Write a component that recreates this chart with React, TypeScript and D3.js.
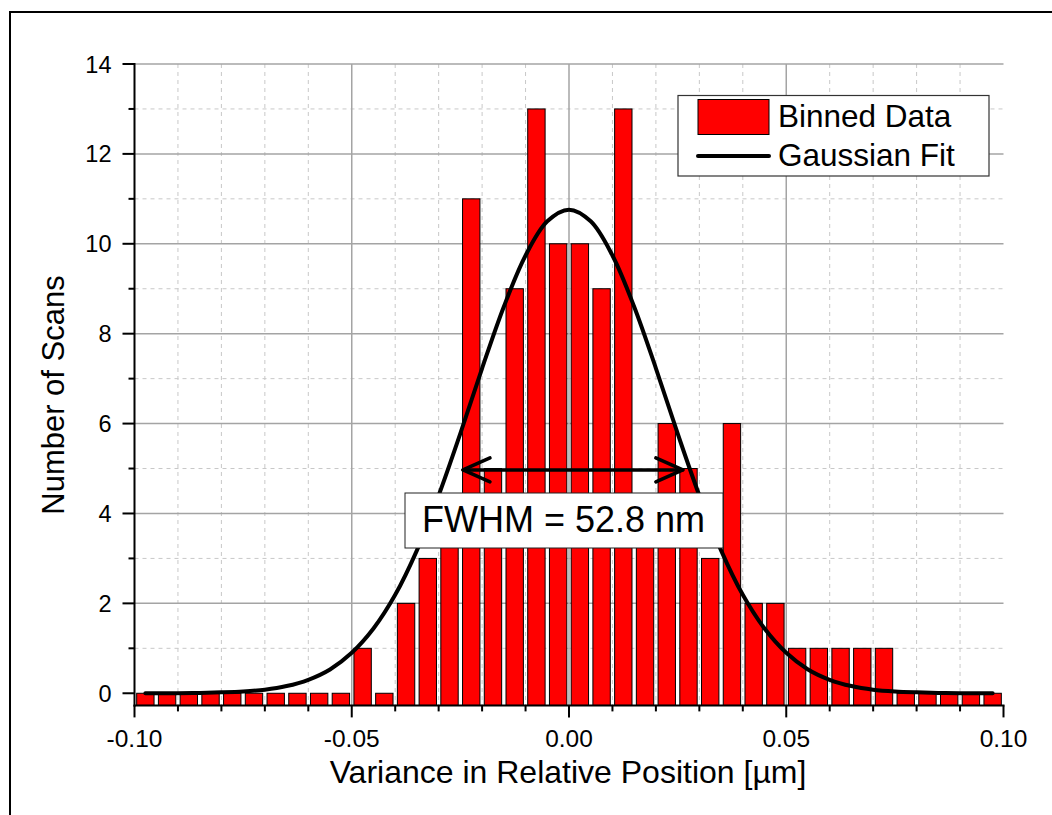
import React from "react";
import * as d3 from "d3";

// ---- data ----
const binStart = -0.1;
const binWidth = 0.005;
const binCounts = [
  0, 0, 0, 0, 0, 0, 0, 0, 0, 0,
  1, 0, 2, 3, 4, 11, 5, 9, 13, 10,
  10, 9, 13, 4, 6, 5, 3, 6, 2, 2,
  1, 1, 1, 1, 1, 0, 0, 0, 0, 0,
];
const fitX = [
  -0.0975, -0.09, -0.085, -0.08, -0.075, -0.07, -0.065, -0.06, -0.055, -0.05,
  -0.045, -0.04, -0.035, -0.03, -0.025, -0.02, -0.015, -0.01, -0.005, 0,
  0.005, 0.01, 0.015, 0.02, 0.025, 0.03, 0.035, 0.04, 0.045, 0.05,
  0.055, 0.06, 0.065, 0.07, 0.075, 0.08, 0.085, 0.09, 0.0975,
];
const fitY = [
  0.0, 0.003, 0.008, 0.02, 0.04, 0.08, 0.16, 0.3, 0.53, 0.9,
  1.44, 2.19, 3.18, 4.4, 5.78, 7.23, 8.6, 9.74, 10.5, 10.76,
  10.5, 9.74, 8.6, 7.23, 5.78, 4.4, 3.18, 2.19, 1.44, 0.9,
  0.53, 0.3, 0.16, 0.08, 0.04, 0.02, 0.008, 0.003, 0.0,
];
const xMajorTicks = [-0.1, -0.05, 0, 0.05, 0.1];
const xTickLabels = ["-0.10", "-0.05", "0.00", "0.05", "0.10"];
const xMinorTicks = d3.range(-10, 11).map((k) => k / 100);
const yMajorTicks = [0, 2, 4, 6, 8, 10, 12, 14];
const yMinorTicks = [1, 3, 5, 7, 9, 11, 13];
const arrowX = [-0.0244, 0.0262];
const arrowY = 4.97;
const fwhmLabel = "FWHM = 52.8 nm";
const legendLabels = ["Binned Data", "Gaussian Fit"];
const xTitle = "Variance in Relative Position [\u00b5m]";
const yTitle = "Number of Scans";

const W = 1052;
const H = 815;
const FONT = "'Liberation Sans', Arial, Helvetica, sans-serif";

export default function App() {
  const x = d3.scaleLinear().domain([-0.1, 0.1]).range([134.5, 1003.5]);
  const y = d3.scaleLinear().domain([-0.27, 14]).range([705.4, 64]);
  const [x0, x1] = x.range();
  const [yb, yt] = y.range();

  const line = d3
    .line<number>()
    .x((_, i) => x(fitX[i]))
    .y((d) => y(d))
    .curve(d3.curveCatmullRom.alpha(0.5));

  const isMajorX = (v: number) => xMajorTicks.some((m) => Math.abs(m - v) < 1e-9);

  const ax0 = x(arrowX[0]);
  const ax1 = x(arrowX[1]);
  const ay = y(arrowY);

  return (
    <svg
      width={W}
      height={H}
      style={{ position: "absolute", left: 0, top: 0, display: "block", background: "#fff" }}
      fontFamily={FONT}
    >
      <rect x={0} y={0} width={W} height={H} fill="#fff" />
      {/* outer frame */}
      <rect x={10} y={12} width={W + 20} height={H + 20} fill="none" stroke="#000" strokeWidth={2} />

      {/* minor grid */}
      {xMinorTicks
        .filter((v) => !isMajorX(v))
        .map((v, i) => (
          <line key={"gx" + i} x1={x(v)} x2={x(v)} y1={yt} y2={yb} stroke="#c8c8c8" strokeWidth={1} strokeDasharray="4,4" />
        ))}
      {yMinorTicks.map((v, i) => (
        <line key={"gy" + i} x1={x0} x2={x1} y1={y(v)} y2={y(v)} stroke="#c8c8c8" strokeWidth={1} strokeDasharray="4,4" />
      ))}
      {/* major grid */}
      {xMajorTicks
        .filter((v) => v > -0.1 && v < 0.1)
        .map((v, i) => (
          <line key={"Gx" + i} x1={x(v)} x2={x(v)} y1={yt} y2={yb} stroke="#a4a4a4" strokeWidth={1.5} />
        ))}
      {yMajorTicks
        .filter((v) => v > 0)
        .map((v, i) => (
          <line key={"Gy" + i} x1={x0} x2={x1} y1={y(v)} y2={y(v)} stroke="#a4a4a4" strokeWidth={1.5} />
        ))}

      {/* bars */}
      {binCounts.map((c, i) => {
        const a = binStart + i * binWidth + binWidth * 0.1;
        const b = binStart + (i + 1) * binWidth - binWidth * 0.1;
        return (
          <rect
            key={"b" + i}
            x={x(a)}
            y={y(c)}
            width={x(b) - x(a)}
            height={yb - y(c)}
            fill="#ff0000"
            stroke="#000"
            strokeWidth={1}
          />
        );
      })}

      {/* gaussian fit */}
      <path d={line(fitY) || ""} fill="none" stroke="#000" strokeWidth={4} strokeLinecap="round" />

      {/* FWHM arrow */}
      <g stroke="#000" strokeWidth={3.5} fill="none" strokeLinecap="round" strokeLinejoin="round">
        <line x1={ax0} x2={ax1} y1={ay} y2={ay} />
        <polyline points={`${ax0 + 27},${ay - 12} ${ax0},${ay} ${ax0 + 27},${ay + 12}`} />
        <polyline points={`${ax1 - 27},${ay - 12} ${ax1},${ay} ${ax1 - 27},${ay + 12}`} />
      </g>

      {/* FWHM box */}
      <rect x={405} y={493} width={318} height={55} fill="#fff" stroke="#222" strokeWidth={1} />
      <text x={422} y={532} fontSize={36} fill="#000">
        {fwhmLabel}
      </text>

      {/* axes */}
      <line x1={x0} x2={x0} y1={yt - 1} y2={yb + 1} stroke="#000" strokeWidth={2} />
      <line x1={x0 - 1} x2={x1 + 1} y1={yb} y2={yb} stroke="#000" strokeWidth={2} />
      {yMajorTicks.map((v, i) => (
        <g key={"yt" + i}>
          <line x1={x0 - 12} x2={x0} y1={y(v)} y2={y(v)} stroke="#000" strokeWidth={2} />
          <text x={x0 - 23} y={y(v) + 8.5} fontSize={23.5} textAnchor="end" fill="#000">
            {v}
          </text>
        </g>
      ))}
      {yMinorTicks.map((v, i) => (
        <line key={"ym" + i} x1={x0 - 6} x2={x0} y1={y(v)} y2={y(v)} stroke="#000" strokeWidth={2} />
      ))}
      {xMinorTicks
        .filter((v) => !isMajorX(v))
        .map((v, i) => (
          <line key={"xm" + i} x1={x(v)} x2={x(v)} y1={yb} y2={yb + 6} stroke="#000" strokeWidth={2} />
        ))}
      {xMajorTicks.map((v, i) => (
        <g key={"xt" + i}>
          <line x1={x(v)} x2={x(v)} y1={yb} y2={yb + 12} stroke="#000" strokeWidth={2} />
          <text x={x(v)} y={746.5} fontSize={24.5} textAnchor="middle" fill="#000">
            {xTickLabels[i]}
          </text>
        </g>
      ))}

      {/* axis titles */}
      <text x={568} y={783} fontSize={32} textAnchor="middle" fill="#000">
        {xTitle}
      </text>
      <text transform={`translate(64,395) rotate(-90)`} fontSize={31} textAnchor="middle" fill="#000">
        {yTitle}
      </text>

      {/* legend */}
      <rect x={678} y={95.5} width={311} height={80.5} fill="#fff" stroke="#333" strokeWidth={1.2} />
      <rect x={698} y={99.5} width={71} height={35} fill="#ff0000" stroke="#000" strokeWidth={1} />
      <text x={778} y={127} fontSize={31.5} fill="#000">
        {legendLabels[0]}
      </text>
      <line x1={698} x2={769} y1={156} y2={156} stroke="#000" strokeWidth={4} strokeLinecap="round" />
      <text x={778} y={166} fontSize={31.5} fill="#000">
        {legendLabels[1]}
      </text>
    </svg>
  );
}
